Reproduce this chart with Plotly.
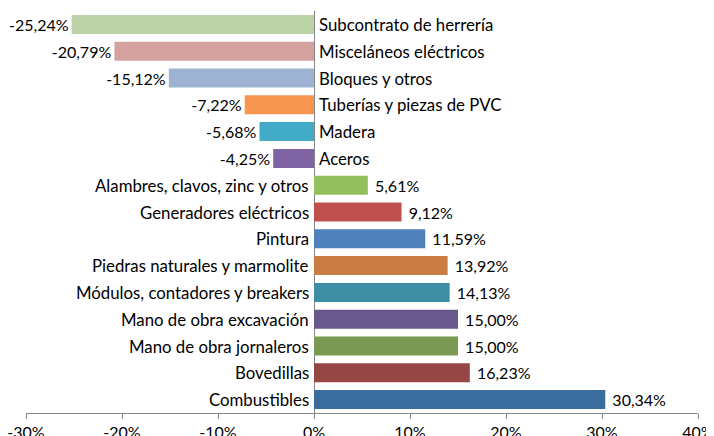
import plotly.graph_objects as go

categorias = [
    'Subcontrato de herrería',
    'Misceláneos eléctricos',
    'Bloques y otros',
    'Tuberías y piezas de PVC',
    'Madera',
    'Aceros',
    'Alambres, clavos, zinc y otros',
    'Generadores eléctricos',
    'Pintura',
    'Piedras naturales y marmolite',
    'Módulos, contadores y breakers',
    'Mano de obra excavación',
    'Mano de obra jornaleros',
    'Bovedillas',
    'Combustibles',
]
variacion = [-25.24, -20.79, -15.12, -7.22, -5.68, -4.25,
             5.61, 9.12, 11.59, 13.92, 14.13, 15.00, 15.00, 16.23, 30.34]
colores = [
    '#bcd3a8', '#d4a19f', '#9db3d1', '#f79650', '#42acc6', '#7e64a2',
    '#93bf5f', '#c0504d', '#4f81bd', '#c97d42', '#3d8ea2', '#69588b',
    '#7a9953', '#964644', '#3a6d9d',
]
ticks = [-30, -20, -10, 0, 10, 20, 30, 40]

FONT = 'Lato, Calibri, sans-serif'
SIZE = 16.8
SIZE_VALOR = 16

# coma decimal; los positivos llevan un espacio duro delante (más aire tras la barra)
etiquetas = [('' if v < 0 else '\u00a0') + f'{v:.2f}%'.replace('.', ',') for v in variacion]

fig = go.Figure(
    go.Bar(
        x=variacion,
        y=categorias,
        orientation='h',
        marker=dict(color=colores, line_width=0),
        text=etiquetas,
        textposition='outside',
        constraintext='none',
        textfont=dict(family=FONT, size=SIZE_VALOR, color='#000000'),
        cliponaxis=False,
    )
)

# nombres de categoría pegados a la línea del cero
for cat, v in zip(categorias, variacion):
    fig.add_annotation(
        x=0, y=cat,
        text=cat,
        showarrow=False,
        xanchor='left' if v < 0 else 'right',
        xshift=3 if v < 0 else -3,
        font=dict(family=FONT, size=SIZE, color='#000000'),
    )

# la página pone 8px de margen al body, por eso la figura es algo menor
fig.update_layout(
    width=706,
    height=428,
    margin=dict(l=18, r=16, t=3, b=23, autoexpand=False),
    plot_bgcolor='white',
    paper_bgcolor='white',
    showlegend=False,
    bargap=0.29,
    font=dict(family=FONT, size=SIZE, color='#000000'),
    xaxis=dict(
        range=[-30, 40],
        tickvals=ticks,
        ticktext=[f'{t}%' for t in ticks],
        showgrid=False,
        zeroline=True,
        zerolinecolor='#868686',
        zerolinewidth=1,
        showline=True,
        linecolor='#868686',
        linewidth=1,
        ticks='outside',
        ticklen=5,
        tickcolor='#868686',
        tickfont=dict(family=FONT, size=SIZE_VALOR, color='#000000'),
        ticklabeloverflow='allow',
        automargin=False,
        fixedrange=True,
    ),
    yaxis=dict(
        autorange='reversed',
        showticklabels=False,
        showgrid=False,
        zeroline=False,
        showline=False,
        automargin=False,
    ),
)

fig.write_html('out.html')
